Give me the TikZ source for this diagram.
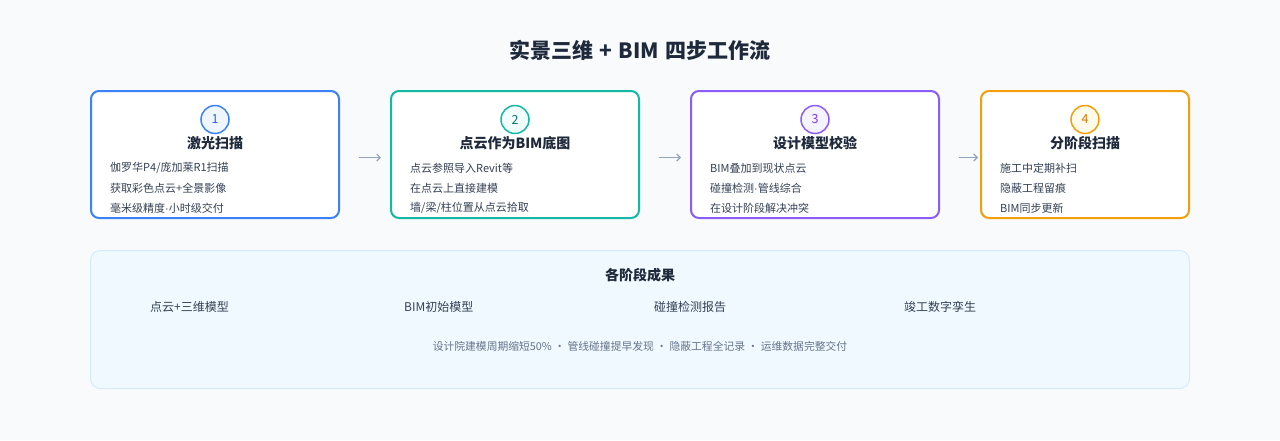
\documentclass[tikz,border=0pt]{standalone}
\usepackage{fontspec}
\setmainfont{Noto Sans CJK SC}
\newfontfamily\latdot{Liberation Sans}
\usetikzlibrary{arrows.meta}
\definecolor{bg}{HTML}{F8FAFC}
\definecolor{c1}{HTML}{3B82F6}\definecolor{c1l}{HTML}{EFF6FF}\definecolor{c1t}{HTML}{2563EB}
\definecolor{c2}{HTML}{14B8A6}\definecolor{c2l}{HTML}{F0FDFA}\definecolor{c2t}{HTML}{0F766E}
\definecolor{c3}{HTML}{8B5CF6}\definecolor{c3l}{HTML}{F5F3FF}\definecolor{c3t}{HTML}{7C3AED}
\definecolor{c4}{HTML}{F59E0B}\definecolor{c4l}{HTML}{FFFBEB}\definecolor{c4t}{HTML}{D97706}
\definecolor{ink}{HTML}{1E293B}
\definecolor{body}{HTML}{334155}
\definecolor{muted}{HTML}{64748B}
\definecolor{arrowc}{HTML}{94A3B8}
\definecolor{panelfill}{HTML}{F0F9FF}
\definecolor{paneldraw}{HTML}{D4ECFA}
\tikzset{
  card/.style={rectangle, rounded corners=8pt, line width=2pt, fill=white, minimum height=127pt, inner sep=0pt},
  numcirc/.style={circle, line width=1.5pt, minimum size=28pt, inner sep=0pt, font=\fontsize{12.5}{15}\selectfont},
  cardtitle/.style={font=\fontsize{14}{16}\selectfont\bfseries, text=ink, inner sep=0pt},
  item/.style={anchor=west, font=\fontsize{11}{13}\selectfont, text=body, inner sep=0pt},
  flow/.style={draw=arrowc, line width=1.1pt, -{Straight Barb[length=3.5pt,width=7pt]}},
  result/.style={anchor=west, font=\fontsize{12}{14}\selectfont, text=body, inner sep=0pt},
}
\newcommand\mdot{{\latdot ·}}
\newcommand\stepcard[7]{%
  \node[card, draw=c#1, minimum width={#3-2}] (b#1) at ({#2+#3/2},154.5) {};
  \node[numcirc, draw=c#1, fill=c#1l, text=c#1t] (n#1) at ({#2+#3/2},119.5) {#1};
  \node[cardtitle] (t#1) at ({#2+#3/2},143) {#4};
  \node[item] (i#1a) at ({#2+20},168) {#5};
  \node[item] (i#1b) at ({#2+20},188) {#6};
  \node[item] (i#1c) at ({#2+20},208) {#7};
}
\begin{document}
\begin{tikzpicture}[x=1pt,y=-1pt]
\useasboundingbox (0,0) rectangle (1280,440);
\fill[bg] (0,0) rectangle (1280,440);
\node[font=\fontsize{21}{25}\selectfont\bfseries, text=ink] (title) at (640,50) {实景三维\hspace{6pt}+\hspace{6pt}BIM\hspace{6pt}四步工作流};
\stepcard{1}{90}{250}{激光扫描}{伽罗华P4/庞加莱R1扫描}{获取彩色点云+全景影像}{毫米级精度\mdot 小时级交付}
\stepcard{2}{390}{250}{点云作为BIM底图}{点云参照导入Revit等}{在点云上直接建模}{墙/梁/柱位置从点云拾取}
\stepcard{3}{690}{250}{设计模型校验}{BIM叠加到现状点云}{碰撞检测\mdot 管线综合}{在设计阶段解决冲突}
\stepcard{4}{980}{210}{分阶段扫描}{施工中定期补扫}{隐蔽工程留痕}{BIM同步更新}
\draw[flow, shorten <=19pt, shorten >=9pt] ([yshift=-3pt]b1.east) -- ([yshift=-3pt]b2.west);
\draw[flow, shorten <=19pt, shorten >=9pt] ([yshift=-3pt]b2.east) -- ([yshift=-3pt]b3.west);
\draw[flow, shorten <=19pt, shorten >=2pt] ([yshift=-3pt]b3.east) -- ([yshift=-3pt]b4.west);
\node[rectangle, rounded corners=10pt, fill=panelfill, draw=paneldraw, line width=1pt, minimum width=1099pt, minimum height=138pt, inner sep=0pt] (panel) at (640,319.5) {};
\node[font=\fontsize{14}{16}\selectfont\bfseries, text=ink] (ptitle) at (640,275) {各阶段成果};
\node[result] (r1) at (150,307) {点云+三维模型};
\node[result] (r2) at (404,307) {BIM初始模型};
\node[result] (r3) at (654,307) {碰撞检测报告};
\node[result] (r4) at (904,307) {竣工数字孪生};
\node[font=\fontsize{10.8}{13}\selectfont, text=muted] (foot) at (640,346) {设计院建模周期缩短50\% · 管线碰撞提早发现 · 隐蔽工程全记录 · 运维数据完整交付};
\end{tikzpicture}
\end{document}
